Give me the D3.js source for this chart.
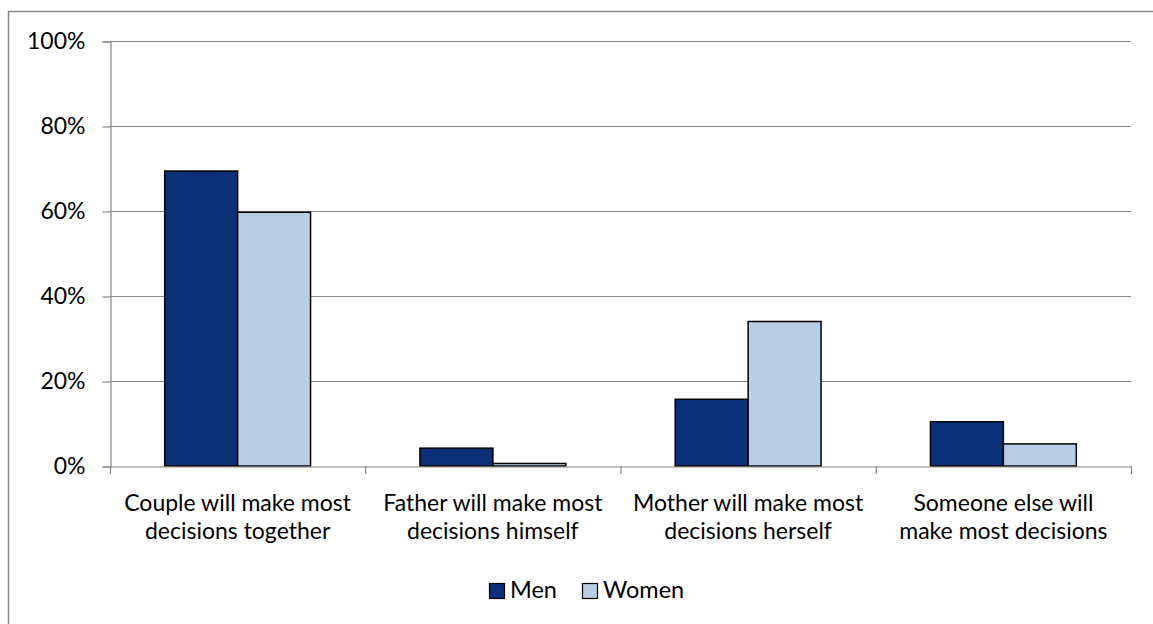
<!DOCTYPE html>
<html>
<head>
<meta charset="utf-8">
<script src="https://cdn.jsdelivr.net/npm/d3@7"></script>
<style>
  html, body { margin: 0; padding: 0; background: #fff; }
  svg text { font-family: Lato, "Open Sans", sans-serif; fill: #000; }
</style>
</head>
<body>
<svg id="chart" width="1153" height="624"></svg>
<script>
// Who will make decisions for the child: answers by respondent sex
const categories = [
  ["Couple will make most", "decisions together"],
  ["Father will make most", "decisions himself"],
  ["Mother will make most", "decisions herself"],
  ["Someone else will", "make most decisions"]
];
const seriesNames = ["Men", "Women"];
const men   = [69.4, 4.2, 15.7, 10.4];
const women = [59.7, 0.6, 34.0, 5.2];
const yTicks = [0, 20, 40, 60, 80, 100];
const colors = ["#0b3078", "#b9cde5"];

const svg = d3.select("#chart");
const plot = { left: 110, right: 1131, top: 41, bottom: 466 };
const fontSize = 23;

// Outer chart frame
svg.append("rect")
  .attr("x", 8.5).attr("y", 11.5)
  .attr("width", 1200).attr("height", 700)
  .attr("fill", "none").attr("stroke", "#868686").attr("stroke-width", 1.5);

const x0 = d3.scaleBand()
  .domain(d3.range(categories.length))
  .range([plot.left, plot.right])
  .paddingInner(0).paddingOuter(0);

// Each group: two bars with a gap of 150% bar width
const groupW = x0.bandwidth();
const barW = groupW / 3.5;
const x1 = d3.scaleBand()
  .domain(seriesNames)
  .range([barW * 0.75, barW * 2.75]);

const y = d3.scaleLinear().domain([0, 100]).range([plot.bottom, plot.top]);

// Horizontal gridlines
svg.append("g")
  .selectAll("line")
  .data(yTicks.filter(t => t > 0))
  .join("line")
  .attr("x1", plot.left).attr("x2", plot.right)
  .attr("y1", d => Math.round(y(d)) + 0.5).attr("y2", d => Math.round(y(d)) + 0.5)
  .attr("stroke", "#868686").attr("stroke-width", 1.2);

// Y axis
const yAxis = d3.axisLeft(y)
  .tickValues(yTicks)
  .tickFormat(d => d + "%")
  .tickSize(8)
  .tickPadding(17);
const yg = svg.append("g")
  .attr("transform", `translate(${plot.left + 0.5},0.5)`)
  .call(yAxis);
yg.select(".domain").attr("stroke", "#868686").attr("stroke-width", 1.2);
yg.selectAll(".tick line").attr("stroke", "#868686").attr("stroke-width", 1.2);
yg.selectAll(".tick text")
  .attr("font-size", fontSize)
  .attr("font-family", "Lato, sans-serif")
  .attr("fill", "#000");

// Bars
const rows = categories.map((c, i) => ({ i, vals: [men[i], women[i]] }));
const groups = svg.append("g")
  .selectAll("g")
  .data(rows)
  .join("g")
  .attr("transform", d => `translate(${x0(d.i)},0)`);

groups.selectAll("rect")
  .data(d => d.vals.map((v, k) => ({ name: seriesNames[k], v, k })))
  .join("rect")
  .attr("x", d => x1(d.name))
  .attr("width", x1.bandwidth())
  .attr("y", d => y(d.v))
  .attr("height", d => y(0) - y(d.v))
  .attr("fill", d => colors[d.k])
  .attr("stroke", "#000")
  .attr("stroke-width", 1.5);

// X axis
const xAxis = d3.axisBottom(x0).tickSize(0).tickFormat("");
const xg = svg.append("g")
  .attr("transform", `translate(0,${plot.bottom + 0.5})`)
  .call(xAxis);
xg.select(".domain").attr("stroke", "#868686").attr("stroke-width", 1.2);
xg.selectAll(".tick").remove();

// Category boundary ticks
svg.append("g")
  .selectAll("line")
  .data(d3.range(categories.length + 1))
  .join("line")
  .attr("x1", i => plot.left + i * groupW + 0.5)
  .attr("x2", i => plot.left + i * groupW + 0.5)
  .attr("y1", plot.bottom)
  .attr("y2", plot.bottom + 8)
  .attr("stroke", "#868686").attr("stroke-width", 1.2);

// Category labels (two lines)
const labels = svg.append("g")
  .selectAll("text")
  .data(rows)
  .join("text")
  .attr("text-anchor", "middle")
  .attr("font-size", fontSize)
  .attr("x", d => x0(d.i) + groupW / 2);
labels.selectAll("tspan")
  .data(d => categories[d.i].map((t, k) => ({ t, k, cx: x0(d.i) + groupW / 2 })))
  .join("tspan")
  .attr("x", d => d.cx)
  .attr("y", d => 511 + d.k * 28)
  .text(d => d.t);

// Legend
const legendItems = [
  { name: seriesNames[0], color: colors[0], x: 489 },
  { name: seriesNames[1], color: colors[1], x: 582 }
];
const lg = svg.append("g")
  .selectAll("g")
  .data(legendItems)
  .join("g")
  .attr("transform", d => `translate(${d.x},583)`);
lg.append("rect")
  .attr("x", 0.5).attr("y", 0.5)
  .attr("width", 15).attr("height", 15)
  .attr("fill", d => d.color)
  .attr("stroke", "#000").attr("stroke-width", 1.2);
lg.append("text")
  .attr("x", 21).attr("y", 15)
  .attr("font-size", 23.5)
  .text(d => d.name);
</script>
</body>
</html>
